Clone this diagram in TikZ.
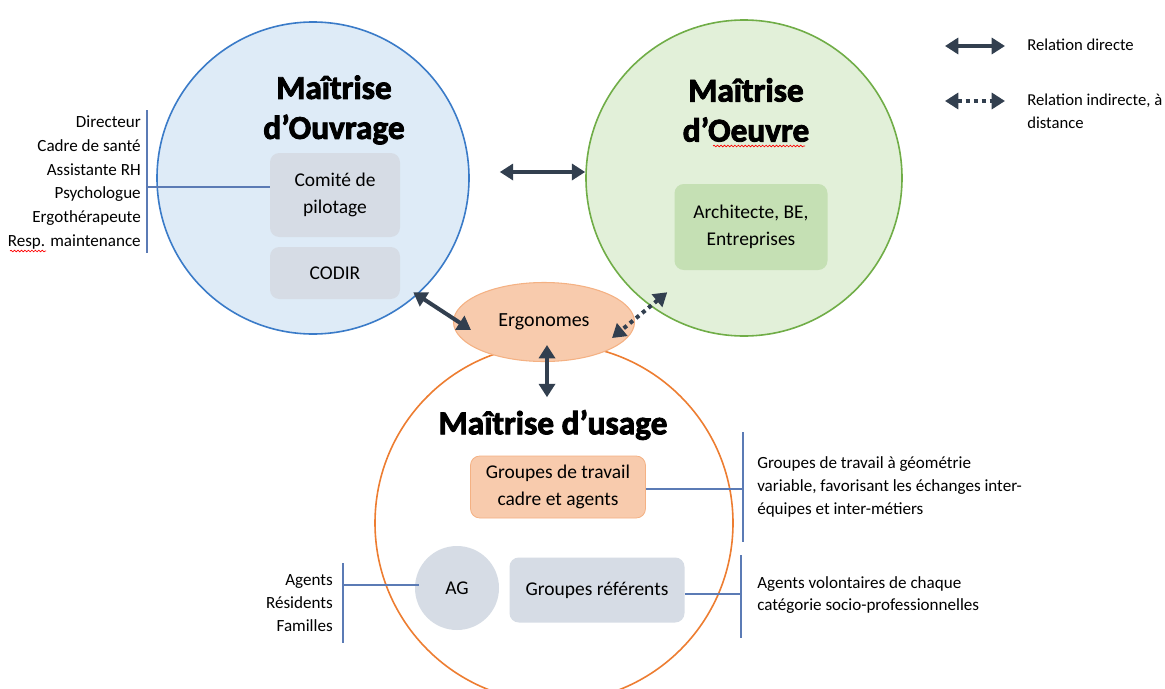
\documentclass[tikz,border=0pt]{standalone}
\usepackage{fontspec}
\setmainfont{Carlito}
\newfontfamily\titlefont{Carlito}[BoldFeatures={FakeBold=2.6}]
\usetikzlibrary{arrows.meta,shapes.geometric,calc,decorations.pathmorphing}
\definecolor{bluefill}{HTML}{DEEBF7}
\definecolor{bluedraw}{HTML}{3A7BC8}
\definecolor{greenfill}{HTML}{E2F0D9}
\definecolor{greendraw}{HTML}{70AD47}
\definecolor{orangedraw}{HTML}{ED7D31}
\definecolor{orangefill}{HTML}{F8CBAD}
\definecolor{orangeline}{HTML}{F4B183}
\definecolor{boxgray}{HTML}{D6DCE5}
\definecolor{boxgreen}{HTML}{C5E0B4}
\definecolor{arrowc}{HTML}{323F4F}
\definecolor{linec}{HTML}{5B7BB5}
\begin{document}
\begin{tikzpicture}[x=0.75pt,y=-0.75pt,
  bigcirc/.style={circle, inner sep=0pt, line width=1.2pt},
  box/.style={rounded corners=7pt, fill=boxgray, align=center, inner sep=0pt,
    font=\fontsize{14.6}{20.5}\selectfont},
  arr/.style={draw=arrowc, line width=3pt,
    {Triangle[length=10pt,width=12pt]}-{Triangle[length=10pt,width=12pt]}},
  dotarr/.style={arr, dash pattern=on 3pt off 3pt},
  thinline/.style={draw=linec, line width=0.9pt},
  title/.style={font=\titlefont\bfseries\fontsize{25}{30}\selectfont, align=center, inner sep=0pt},
  side/.style={font=\fontsize{12.8}{17}\selectfont, inner sep=0pt},
  legend/.style={font=\fontsize{12.5}{17}\selectfont, inner sep=0pt, anchor=west, align=left},
  squiggle/.style={draw=red, line width=0.5pt, decorate,
    decoration={snake, amplitude=0.6pt, segment length=2.6pt}}
]
\useasboundingbox (0,0) rectangle (1165,689);
\clip (0,0) rectangle (1165,689);

% big circles
\node[bigcirc, draw=bluedraw, fill=bluefill, minimum size=234pt] (mo) at (313,178) {};
\node[bigcirc, draw=greendraw, fill=greenfill, minimum size=237pt] (mv) at (744,178) {};
\node[bigcirc, draw=orangedraw, fill=white, minimum size=268.5pt] (mu) at (554,523) {};
\node[ellipse, draw=orangeline, fill=orangefill, line width=0.8pt, inner sep=0pt,
  minimum width=135.75pt, minimum height=59.25pt, font=\fontsize{15}{20}\selectfont] (ergo) at (544,322) {Ergonomes};

% titles
\node[title] (t1) at (334,110) {Maîtrise\\d’Ouvrage};
\node[title] (t2) at (746,110) {Maîtrise\\d’Oeuvre};
\node[title] (t3) at (553,425) {Maîtrise d’usage};

% boxes
\node[box, minimum width=97.5pt, minimum height=63pt] (comite) at (335,195) {Comité de\\pilotage};
\node[box, minimum width=97.5pt, minimum height=39pt] (codir) at (335,273) {CODIR};
\node[box, fill=boxgreen, minimum width=114.75pt, minimum height=64.5pt] (archi) at (751,227) {Architecte, BE,\\Entreprises};
\node[box, fill=orangefill, draw=orangeline, line width=0.6pt, minimum width=131.25pt, minimum height=46.5pt] (gtravail) at (558,487) {Groupes de travail\\cadre et agents};
\node[circle, fill=boxgray, inner sep=0pt, minimum size=63pt, font=\fontsize{14.6}{20}\selectfont] (ag) at (457,588) {AG};
\node[box, minimum width=131.25pt, minimum height=48.75pt] (gref) at (597,590) {Groupes référents};

% arrows
\draw[arr] ($(mo.east)+(30,-6)$) -- ($(mv.west)+(0,-6)$);
\draw[arr] ($(codir.south east)+(13,-7)$) -- ($(ergo.west)+(18,8)$);
\draw[dotarr] ($(archi.south west)+(-7,22)$) -- ($(ergo.east)+(-23,16)$);
\draw[arr] ($(ergo.south)+(3,-17)$) -- ($(mu.north)+(-7,54)$);

% left list
\node[side, align=right, anchor=east, font=\fontsize{12.8}{17.8}\selectfont] (lst1) at (141,182.5)
  {Directeur\\Cadre de santé\\Assistante RH\\Psychologue\\Ergothérapeute\\Resp. maintenance};
\coordinate (v1a) at (147,110);
\coordinate (v1b) at (147,253);
\coordinate (j1) at (147,187);
\draw[thinline] (v1a) -- (v1b);
\draw[thinline] (j1) -- (j1 -| comite.west);

% AG list
\node[side, align=right, anchor=east, font=\fontsize{12.8}{17}\selectfont] (lst2) at (333,603)
  {Agents\\Résidents\\Familles};
\coordinate (v2a) at (343,563);
\coordinate (v2b) at (343,643);
\coordinate (j2) at (343,585);
\draw[thinline] (v2a) -- (v2b);
\draw[thinline] (j2) -- ($(ag.west)+(4,-3)$);

% right list 1
\node[side, align=left, anchor=west] (lst3) at (757,487)
  {Groupes de travail à géométrie\\variable, favorisant les échanges inter-\\équipes et inter-métiers};
\coordinate (v3a) at (743,432);
\coordinate (v3b) at (743,542);
\coordinate (j3) at (743,489);
\draw[thinline] (v3a) -- (v3b);
\draw[thinline] (gtravail.east |- j3) -- (j3);

% right list 2
\node[side, align=left, anchor=west] (lst4) at (757,595)
  {Agents volontaires de chaque\\catégorie socio-professionnelles};
\coordinate (v4a) at (741,555);
\coordinate (v4b) at (741,638);
\coordinate (j4) at (741,594);
\draw[thinline] (v4a) -- (v4b);
\draw[thinline] (gref.east |- j4) -- (j4);

% legend
\coordinate (la1) at (945,46);
\coordinate (lb1) at (1005,46);
\coordinate (la2) at (945,101);
\coordinate (lb2) at (1005,101);
\draw[arr] (la1) -- (lb1);
\draw[dotarr] (la2) -- (lb2);
\node[legend] (leg1) at (1027,45) {Relation directe};
\node[legend] (leg2) at (1027,111.5) {Relation indirecte, à\\distance};

% spell-check squiggles
\draw[squiggle] (10,251) -- (46,251);
\draw[squiggle] (713,146) -- (805,146);
\end{tikzpicture}
\end{document}
